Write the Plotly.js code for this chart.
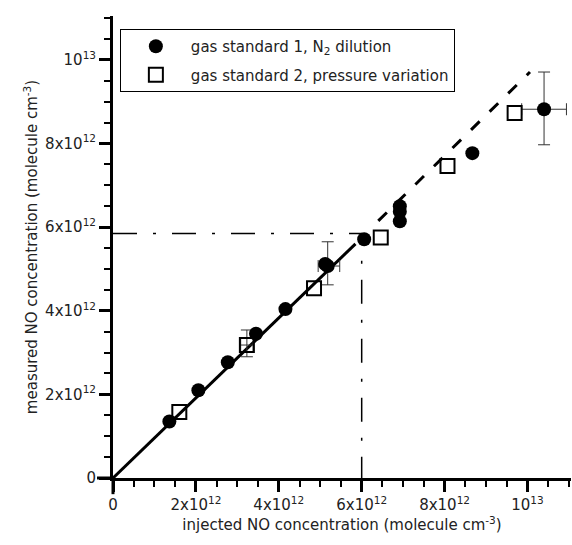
<!DOCTYPE html>
<html>
<head>
<meta charset="utf-8">
<script src="https://cdn.plot.ly/plotly-3.0.1.min.js"></script>
<style>body{margin:0;background:#fff}#chart{width:572px;height:545px}</style>
</head>
<body>
<div id="chart"></div>
<script>
const E = 1e12;
// gas standard 1 (N2 dilution), values in 1e12 molecule cm^-3
const std1_x = [1.36, 2.06, 2.77, 3.45, 4.16, 5.12, 5.18, 6.06, 6.92, 6.92, 6.92, 8.67, 10.4];
const std1_y = [1.35, 2.10, 2.77, 3.45, 4.04, 5.12, 5.07, 5.71, 6.50, 6.37, 6.14, 7.77, 8.82];
// gas standard 2 (pressure variation)
const std2_x = [1.60, 3.23, 4.85, 6.46, 8.07, 9.69];
const std2_y = [1.58, 3.18, 4.54, 5.75, 7.46, 8.73];
// points with error bars
const err_x = [5.18, 10.4, 3.23];
const err_y = [5.07, 8.82, 3.18];
const err_y_plus = [0.58, 0.89, 0.36];
const err_y_minus = [0.45, 0.85, 0.28];
const err_x_plus = [0.29, 0.54, 0.15];
const err_x_minus = [0.23, 0.54, 0.15];
// fit lines
const fit_x = [0, 5.85];
const fit_y = [0, 5.60];
const ext_x = [6.40, 10.06];
const ext_y = [6.15, 9.71];
// limit marker
const lim_x = [0, 6.0, 6.0];
const lim_y = [5.85, 5.85, 0];

const tickVals = [0, 2, 4, 6, 8, 10];
const tickText = ["0", "2x10<sup>12</sup>", "4x10<sup>12</sup>", "6x10<sup>12</sup>", "8x10<sup>12</sup>", "10<sup>13</sup>"];

const s = a => a.map(v => v * E);

const data = [
  {x: s(fit_x), y: s(fit_y), mode: "lines", line: {color: "black", width: 3}, showlegend: false, hoverinfo: "skip"},
  {x: s(ext_x), y: s(ext_y), mode: "lines", line: {color: "black", width: 3, dash: "12px,14px"}, showlegend: false, hoverinfo: "skip"},
  {x: s(lim_x), y: s(lim_y), mode: "lines", line: {color: "black", width: 1.5, dash: "24px,16px,3px,16px"}, showlegend: false, hoverinfo: "skip"},
  {x: s(err_x), y: s(err_y), mode: "markers", marker: {size: 1, opacity: 0}, showlegend: false, hoverinfo: "skip",
    error_y: {type: "data", symmetric: false, array: s(err_y_plus), arrayminus: s(err_y_minus), color: "#333", thickness: 1, width: 6},
    error_x: {type: "data", symmetric: false, array: s(err_x_plus), arrayminus: s(err_x_minus), color: "#333", thickness: 1, width: 6}},
  {x: s(std1_x), y: s(std1_y), mode: "markers", name: "gas standard 1, N<sub>2</sub> dilution", legendgroup: "a",
    marker: {symbol: "circle", size: 14, color: "black"}},
  {x: s(std2_x), y: s(std2_y), mode: "markers", name: "gas standard 2, pressure variation", legendgroup: "b",
    marker: {symbol: "square-open", size: 14, color: "black", line: {width: 2, color: "black"}}}
];

const axisCommon = {
  showgrid: false, zeroline: false, showline: true, linecolor: "black", linewidth: 3,
  ticks: "outside", ticklen: 11, tickwidth: 3, tickcolor: "black",
  tickmode: "array", tickvals: s(tickVals), ticktext: tickText,
  minor: {tickmode: "linear", tick0: 0, dtick: 0.5 * E, ticks: "outside", ticklen: 6, tickwidth: 2, tickcolor: "black"},
  tickfont: {family: "DejaVu Sans", size: 15, color: "#222"}
};

const layout = {
  width: 572, height: 545,
  margin: {l: 113, r: 1, t: 16, b: 67},
  paper_bgcolor: "white", plot_bgcolor: "white",
  font: {family: "DejaVu Sans", color: "#222"},
  xaxis: Object.assign({}, axisCommon, {range: [0, 11.05 * E],
    title: {text: "injected NO concentration (molecule cm<sup>-3</sup>)", font: {size: 15}, standoff: 2}}),
  yaxis: Object.assign({}, axisCommon, {range: [0, 11.05 * E],
    title: {text: "measured NO concentration (molecule cm<sup>-3</sup>)", font: {size: 15}, standoff: 4}}),
  showlegend: true,
  legend: {x: 0.015, y: 0.972, xanchor: "left", yanchor: "top", bordercolor: "black", borderwidth: 1,
    bgcolor: "white", font: {size: 15, family: "DejaVu Sans"}, traceorder: "grouped", tracegroupgap: 6,
    itemwidth: 60},
  shapes: [
    {type: "line", xref: "paper", yref: "paper", x0: -0.035, x1: 0, y0: 0, y1: 0, line: {color: "black", width: 3}},
    {type: "line", xref: "paper", yref: "paper", x0: 0, x1: 0, y0: -0.035, y1: 0, line: {color: "black", width: 3}}
  ]
};

Plotly.newPlot("chart", data, layout, {displaylogo: false, staticPlot: true});
</script>
</body>
</html>
